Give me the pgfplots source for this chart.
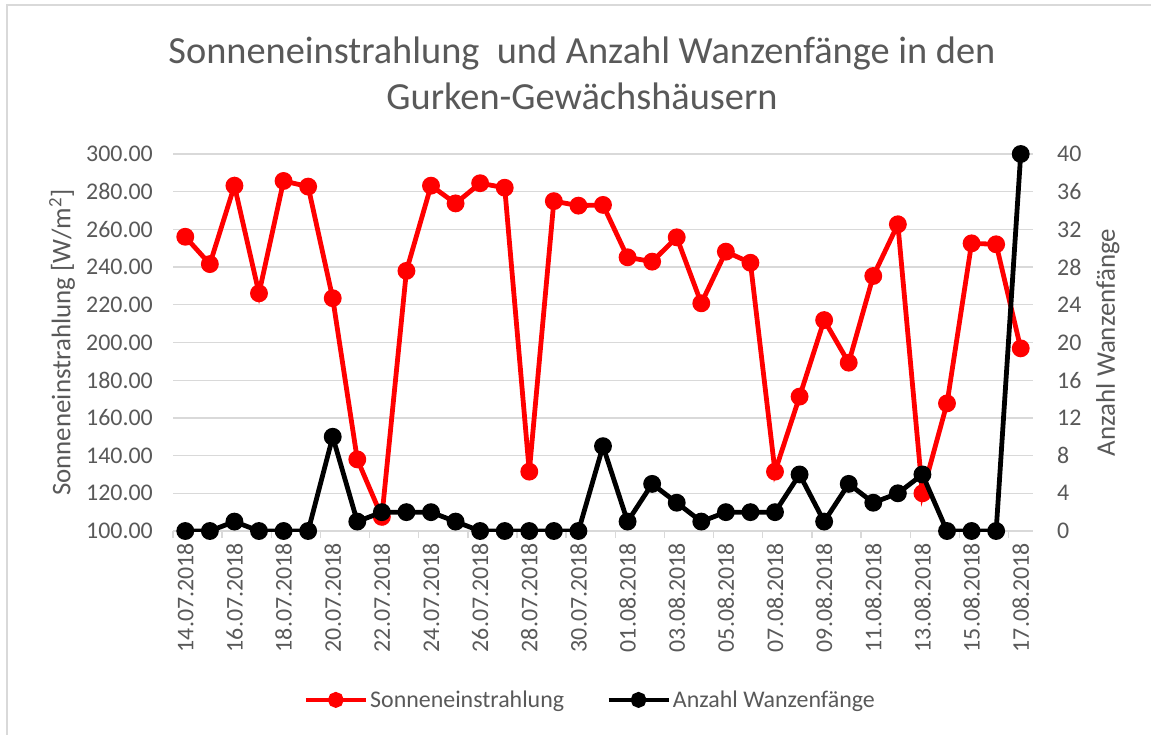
\documentclass[border=0pt]{standalone}
\usepackage{pgfplots}
\pgfplotsset{compat=1.18}
\usepackage{pgfplotstable}
\usepackage{fontspec}
\setmainfont{Carlito}
\definecolor{txt}{HTML}{595959}
\definecolor{grd}{HTML}{D9D9D9}
\definecolor{exred}{HTML}{FF0000}

\pgfplotstableread{
idx sun bugs
0 256.1 0
1 241.6 0
2 283.2 1
3 226.1 0
4 285.7 0
5 282.7 0
6 223.5 10
7 138.0 1
8 107.5 2
9 238.0 2
10 283.2 2
11 273.8 1
12 284.5 0
13 282.1 0
14 131.5 0
15 275.0 0
16 272.6 0
17 273.0 9
18 245.2 1
19 242.9 5
20 255.8 3
21 220.8 1
22 248.2 2
23 242.3 2
24 131.5 2
25 171.3 6
26 211.9 1
27 189.3 5
28 235.3 3
29 262.7 4
30 120.0 6
31 167.7 0
32 252.6 0
33 252.1 0
34 196.9 40
}\datatable

\pgfplotsset{
  mybase/.style={
    at={(173bp,-531bp)}, anchor=south west,
    scale only axis, width=860bp, height=377bp,
    xmin=-0.5, xmax=34.5,
    major tick length=0pt,
    tick label style={color=txt, font=\fontsize{24}{26}\selectfont},
    label style={color=txt, font=\fontsize{27}{30}\selectfont},
  }
}

\begin{document}
\begin{tikzpicture}
\useasboundingbox (0,0) rectangle (1151bp,-735bp);
\fill[white] (0,0) rectangle (1151bp,-735bp);
\draw[grd, line width=2bp] (7bp,-735bp) -- (7bp,-5bp) -- (1151bp,-5bp);

\begin{axis}[
  mybase,
  ymin=100, ymax=300,
  ytick={100,120,...,300},
  ymajorgrids, grid style={grd, line width=1.3bp},
  axis y line*=left, y axis line style={draw=none},
  axis x line*=bottom, x axis line style={-, grd, line width=1.3bp},
  xtick={0,2,...,34},
  xticklabels={14.07.2018,16.07.2018,18.07.2018,20.07.2018,22.07.2018,24.07.2018,26.07.2018,28.07.2018,30.07.2018,01.08.2018,03.08.2018,05.08.2018,07.08.2018,09.08.2018,11.08.2018,13.08.2018,15.08.2018,17.08.2018},
  minor xtick={-0.5,1.5,...,33.5},
  minor tick length=7bp, tick align=outside,
  minor tick style={grd, line width=1.3bp},
  x tick label style={inner sep=0pt, yshift=-12bp, rotate=90, anchor=east},
  y tick label style={inner sep=0pt, xshift=-20bp, anchor=east,
    /pgf/number format/.cd, fixed, fixed zerofill, precision=2, assume math mode=true},
  ylabel={Sonneneinstrahlung [W/m\textsuperscript{2}]},
  ylabel style={at={(axis description cs:-0.129,0.5)}, anchor=center},
]
\addplot[exred, line width=4.8bp, mark=*, mark size=6.5bp, mark options={solid}]
  table[x=idx, y=sun] {\datatable};
\end{axis}

\begin{axis}[
  mybase,
  ymin=0, ymax=40,
  ytick={0,4,...,40},
  axis y line*=right, y axis line style={draw=none},
  axis x line=none,
  y tick label style={inner sep=0pt, xshift=24bp, anchor=west,
    /pgf/number format/assume math mode=true},
  ylabel={Anzahl Wanzenfänge},
  ylabel style={at={(axis description cs:1.087,0.5)}, anchor=center},
  legend columns=2,
  legend style={at={(axis description cs:0.485,-0.448)}, anchor=center,
    draw=none, fill=none, font=\fontsize{24}{26}\selectfont, text=txt,
    /tikz/every even column/.append style={column sep=40bp},
    nodes={inner xsep=2bp}},
  legend image code/.code={
    \draw[#1, mark repeat=2, mark phase=2] plot coordinates {(0bp,0bp) (30bp,0bp) (60bp,0bp)};
  },
]
\addlegendimage{exred, line width=4.8bp, mark=*, mark size=5.5bp, mark options={solid}}
\addlegendentry{Sonneneinstrahlung}
\addplot[black, line width=4.8bp, mark=*, mark size=6.5bp, mark options={solid}, forget plot]
  table[x=idx, y=bugs] {\datatable};
\addlegendimage{black, line width=4.8bp, mark=*, mark size=5.5bp, mark options={solid}}
\addlegendentry{Anzahl Wanzenfänge}
\end{axis}

\node[font=\fontsize{38.5}{46}\selectfont, text=txt, align=center] at (582bp,-73bp)
  {Sonneneinstrahlung\ \ und Anzahl Wanzenfänge in den\\Gurken-Gewächshäusern};
\end{tikzpicture}
\end{document}
